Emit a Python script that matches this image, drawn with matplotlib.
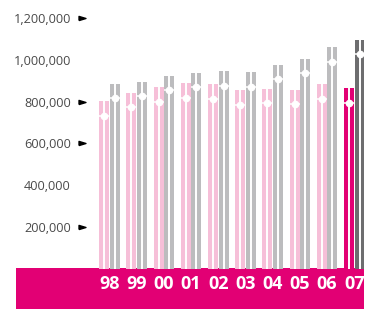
import matplotlib
matplotlib.use("Agg")
import matplotlib.pyplot as plt
import matplotlib.transforms as mtransforms
from matplotlib.patches import Rectangle

years = ["98", "99", "00", "01", "02", "03", "04", "05", "06", "07"]
pink_tops = [803000, 843000, 872000, 888000, 885000, 857000, 861000, 857000, 885000, 864000]
pink_dots = [730000, 773000, 800000, 817000, 813000, 784000, 792000, 789000, 813000, 795000]
gray_tops = [885000, 896000, 923000, 939000, 948000, 941000, 976000, 1006000, 1062000, 1095000]
gray_dots = [817000, 829000, 856000, 869000, 875000, 872000, 907000, 935000, 990000, 1026000]
ytick_vals = [200000, 400000, 600000, 800000, 1000000, 1200000]
arrow_ticks = [200000, 600000, 800000, 1200000]

MAGENTA = "#e20074"
PINK = "#f6bfd8"
GRAY = "#bcbcbe"
DARK = "#6d6d6f"

W, H = 374, 310
fig = plt.figure(figsize=(W / 100, H / 100), dpi=100)
ax = fig.add_axes([88 / W, (H - 268.8) / H, 276 / W, 261.25 / H])
ax.patch.set_visible(False)
ax.set_xlim(-0.79, 9.357)
ax.set_ylim(0, 1250000)

bw = 0.365
off = 0.193
n = len(years)
for i in range(n):
    pc = PINK if i < n - 1 else MAGENTA
    gc = GRAY if i < n - 1 else DARK
    for xc, top, dot, col in [(i - off, pink_tops[i], pink_dots[i], pc),
                              (i + off, gray_tops[i], gray_dots[i], gc)]:
        ax.bar(xc, top, width=bw, color=col, linewidth=0, zorder=2)
        ax.vlines(xc, 0, top, colors="white", lw=1.4, zorder=3)
        ax.hlines(dot, xc - bw / 2, xc + bw / 2, colors="white", lw=1.1, zorder=3)
        ax.plot([xc], [dot], marker="o", ms=4.5, color="white", mec="white", zorder=4)

ax.set_yticks(ytick_vals)
ax.set_yticklabels([f"{v:,}" for v in ytick_vals], fontfamily="Open Sans",
                   fontsize=9.2, color="#4a4a4a")
ax.tick_params(axis="y", length=0, pad=12.3)
ax.set_xticks([])
for s in ax.spines.values():
    s.set_visible(False)

trans = mtransforms.blended_transform_factory(ax.transAxes, ax.transData)
tri = [(-1, -0.6), (1, 0), (-1, 0.6), (-1, -0.6)]
for v in arrow_ticks:
    ax.plot([-6 / 276], [v], marker=tri, ms=5, color="black", transform=trans,
            clip_on=False, zorder=5)

fig.patches.append(Rectangle((16 / W, 1 / H), 348 / W, 41.5 / H, transform=fig.transFigure,
                             facecolor=MAGENTA, edgecolor="none", zorder=-1))
ltrans = mtransforms.blended_transform_factory(ax.transData, fig.transFigure)
for i, y in enumerate(years):
    fig.text(0, 0, y, transform=ltrans, ha="center", va="center",
             color="white", fontsize=13, fontweight="bold", fontfamily="Open Sans",
             zorder=5).set_position((i, (H - 284) / H))

fig.savefig("out.png", dpi=100)
